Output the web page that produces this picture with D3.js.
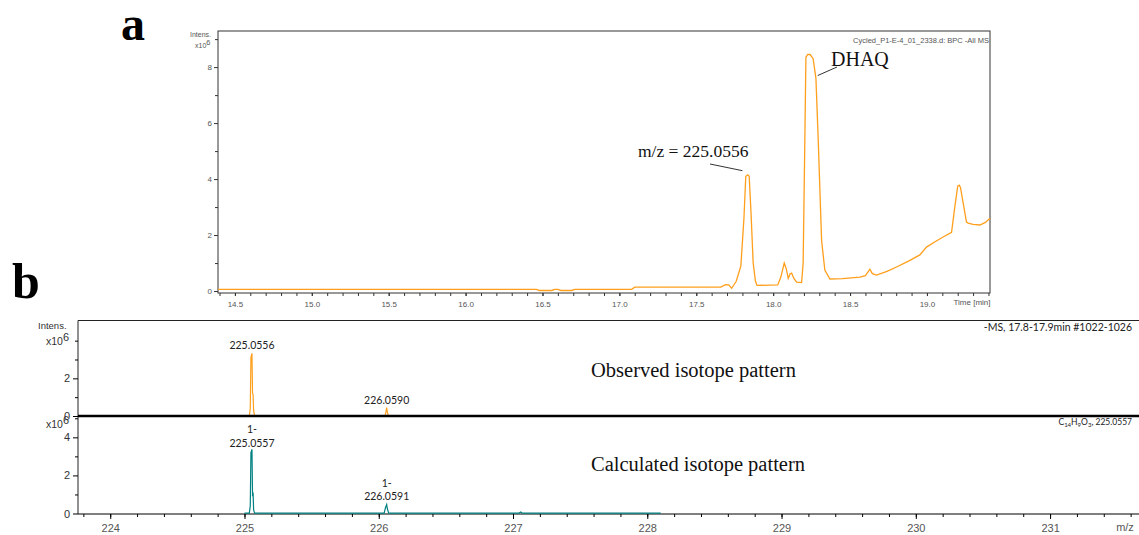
<!DOCTYPE html>
<html>
<head>
<meta charset="utf-8">
<script src="https://cdn.jsdelivr.net/npm/d3@7"></script>
<style>
  body { margin: 0; background: #fff; }
  svg { display: block; }
</style>
</head>
<body>
<div id="chart"></div>
<script>
const width = 1139, height = 535;

// panel a: base peak chromatogram (time in min, intensity x10^6)
const bpcTime = [14.39, 16.46, 16.48, 16.56, 16.58, 16.60, 16.62, 16.69, 16.71, 17.08, 17.10, 17.66, 17.69, 17.71, 17.73,
  17.76, 17.79, 17.81, 17.822, 17.835, 17.844, 17.856, 17.870, 17.885, 17.895, 18.03, 18.05, 18.072, 18.085, 18.098,
  18.110, 18.120, 18.135, 18.152, 18.185, 18.195, 18.205, 18.213, 18.225, 18.24, 18.26, 18.278, 18.293, 18.315, 18.336,
  18.369, 18.45, 18.564, 18.60, 18.629, 18.645, 18.672, 18.74, 18.802, 18.88, 18.954, 18.997, 19.05, 19.105, 19.160,
  19.181, 19.20, 19.21, 19.218, 19.257, 19.268, 19.30, 19.344, 19.38, 19.41];
const bpcInt = [0.06, 0.06, 0.02, 0.02, 0.06, 0.06, 0.02, 0.02, 0.06, 0.06, 0.14, 0.14, 0.23, 0.22, 0.10,
  0.35, 0.90, 2.6, 4.1, 4.15, 4.1, 2.8, 1.0, 0.35, 0.2, 0.22, 0.5, 1.0, 0.8, 0.45,
  0.62, 0.64, 0.45, 0.32, 0.3, 1.0, 5.0, 8.35, 8.45, 8.45, 8.3, 7.6, 5.4, 1.8, 0.75,
  0.43, 0.44, 0.50, 0.55, 0.78, 0.62, 0.57, 0.70, 0.86, 1.07, 1.29, 1.57, 1.75, 1.93, 2.1,
  3.0, 3.75, 3.78, 3.7, 2.46, 2.43, 2.38, 2.36, 2.45, 2.6];
const bpcXTicks = [14.5, 15.0, 15.5, 16.0, 16.5, 17.0, 17.5, 18.0, 18.5, 19.0];
const bpcYTicks = [0, 2, 4, 6, 8];

// panel b: observed spectrum (m/z, intensity x10^6), null = gap
const obsMz  = [225.036, 225.043, 225.048, 225.0556, 225.060, 225.064, 225.068, 225.075, null,
  226.045, 226.052, 226.0590, 226.064, 226.072];
const obsInt = [0, 0.4, 3.1, 3.33, 1.2, 1.15, 0.3, 0, null,
  0, 0.15, 0.45, 0.2, 0];
// calculated isotope pattern
const calcMz  = [225.00, 225.036, 225.043, 225.048, 225.0557, 225.060, 225.064, 225.068, 225.075,
  226.040, 226.050, 226.0591, 226.064, 226.074, 227.045, 227.058, 227.070, 228.10];
const calcInt = [0.02, 0.02, 0.4, 3.2, 3.37, 0.9, 1.1, 0.2, 0.02,
  0.02, 0.3, 0.47, 0.25, 0.02, 0.02, 0.08, 0.02, 0.02];
const mzTicks = [224, 225, 226, 227, 228, 229, 230, 231];
const obsYTicks = [0, 2];
const calcYTicks = [0, 2, 4];

const orange = "#ff9f1c", teal = "#008080", grey = "#555";

const svg = d3.select("#chart").append("svg")
  .attr("width", width)
  .attr("height", height);
svg.append("rect").attr("width", width).attr("height", height).attr("fill", "#fff");

function sup6(sel, x, y, size) {
  let t = sel.append("text").attr("x", x).attr("y", y)
    .attr("font-family", "Liberation Sans, Arial, sans-serif").attr("font-size", size).attr("fill", grey);
  t.append("tspan").text("x10");
  t.append("tspan").attr("dy", -size * 0.4).attr("font-size", size * 1.05).text("6");
  return t;
}

// ---------- panel a ----------
const ax = d3.scaleLinear().domain([14.39, 19.41]).range([218, 990]);
const ay = d3.scaleLinear().domain([-0.07, 9.29]).range([293, 31]);

const ga = svg.append("g");
ga.append("rect").attr("x", 218).attr("y", 31).attr("width", 772).attr("height", 262)
  .attr("fill", "none").attr("stroke", "#333").attr("stroke-width", 1);

let minorT = d3.range(144, 195).map(d => d / 10);
ga.append("g").attr("transform", "translate(0,293)")
  .call(d3.axisBottom(ax).tickValues(minorT).tickSize(3).tickFormat(""))
  .call(g => g.select(".domain").remove())
  .call(g => g.selectAll("line").attr("stroke", "#333"));
ga.append("g").attr("transform", "translate(0,293)")
  .call(d3.axisBottom(ax).tickValues(bpcXTicks).tickSize(3).tickPadding(5).tickFormat(d3.format(".1f")))
  .call(g => g.select(".domain").remove())
  .call(g => g.selectAll("line").attr("stroke", "#333"))
  .call(g => g.selectAll("text").attr("fill", grey).attr("font-size", 8)
    .attr("font-family", "Liberation Sans, Arial, sans-serif"));
ga.append("text").attr("x", 972).attr("y", 305).attr("text-anchor", "middle")
  .attr("font-family", "Liberation Sans, Arial, sans-serif").attr("font-size", 8).attr("fill", grey)
  .text("Time [min]");

ga.append("g").attr("transform", "translate(218,0)")
  .call(d3.axisLeft(ay).tickValues([1, 3, 5, 7, 9]).tickSize(3).tickFormat(""))
  .call(g => g.select(".domain").remove())
  .call(g => g.selectAll("line").attr("stroke", "#333"));
ga.append("g").attr("transform", "translate(218,0)")
  .call(d3.axisLeft(ay).tickValues(bpcYTicks).tickSize(4).tickPadding(2).tickFormat(d3.format("d")))
  .call(g => g.select(".domain").remove())
  .call(g => g.selectAll("line").attr("stroke", "#333"))
  .call(g => g.selectAll("text").attr("fill", grey).attr("font-size", 8)
    .attr("font-family", "Liberation Sans, Arial, sans-serif"));

ga.append("text").attr("x", 190).attr("y", 37)
  .attr("font-family", "Liberation Sans, Arial, sans-serif").attr("font-size", 7).attr("fill", grey)
  .text("Intens.");
sup6(ga, 195, 48, 7);
ga.append("text").attr("x", 989).attr("y", 43).attr("text-anchor", "end")
  .attr("font-family", "Liberation Sans, Arial, sans-serif").attr("font-size", 7.5).attr("fill", grey)
  .text("Cycled_P1-E-4_01_2338.d: BPC -All MS");

ga.append("path")
  .datum(d3.zip(bpcTime, bpcInt))
  .attr("fill", "none").attr("stroke", orange).attr("stroke-width", 1.3)
  .attr("d", d3.line().x(d => ax(d[0])).y(d => ay(d[1])));

// annotations
ga.append("text").attr("x", 638).attr("y", 157)
  .attr("font-family", "Liberation Serif, Times New Roman, serif").attr("font-size", 17.5).attr("fill", "#111")
  .text("m/z = 225.0556");
ga.append("line").attr("x1", 710).attr("y1", 164).attr("x2", ax(17.8)).attr("y2", ay(4.3))
  .attr("stroke", "#333").attr("stroke-width", 1);
ga.append("text").attr("x", 831).attr("y", 66)
  .attr("font-family", "Liberation Serif, Times New Roman, serif").attr("font-size", 20).attr("fill", "#111")
  .text("DHAQ");
ga.append("line").attr("x1", ax(18.29)).attr("y1", ay(7.7)).attr("x2", 837).attr("y2", 67)
  .attr("stroke", "#333").attr("stroke-width", 1);

svg.append("text").attr("x", 121).attr("y", 40)
  .attr("font-family", "Liberation Serif, Times New Roman, serif").attr("font-weight", "bold")
  .attr("font-size", 48).text("a");
svg.append("text").attr("x", 12).attr("y", 298)
  .attr("font-family", "Liberation Serif, Times New Roman, serif").attr("font-weight", "bold")
  .attr("font-size", 50).text("b");

// ---------- panel b ----------
const bx = d3.scaleLinear().domain([223.76, 231.64]).range([78, 1136]);
const by1 = d3.scaleLinear().domain([0, 5.06]).range([416, 320.7]);
const by2 = d3.scaleLinear().domain([0, 5.12]).range([513.5, 416]);

const gb = svg.append("g");
gb.append("line").attr("x1", 78).attr("x2", 1139).attr("y1", 320.5).attr("y2", 320.5)
  .attr("stroke", "#222").attr("stroke-width", 1);
gb.append("line").attr("x1", 78).attr("x2", 78).attr("y1", 320.5).attr("y2", 514)
  .attr("stroke", "#222").attr("stroke-width", 1);

const fontB = "Liberation Sans, Arial, sans-serif";
[[by1, [1, 3, 4], obsYTicks], [by2, [1, 3, 5], calcYTicks]].forEach(([y, minor, major]) => {
  gb.append("g").attr("transform", "translate(78,0)")
    .call(d3.axisLeft(y).tickValues(minor).tickSize(3).tickFormat(""))
    .call(g => g.select(".domain").remove());
  gb.append("g").attr("transform", "translate(78,0)")
    .call(d3.axisLeft(y).tickValues(major).tickSize(5).tickPadding(3).tickFormat(d3.format("d")))
    .call(g => g.select(".domain").remove())
    .call(g => g.selectAll("text").attr("fill", "#333").attr("font-size", 11).attr("font-family", fontB));
});

let minorMz = d3.range(2238, 2317, 2).map(d => d / 10);
gb.append("g").attr("transform", "translate(0,514)")
  .call(d3.axisBottom(bx).tickValues(minorMz).tickSize(3).tickFormat(""))
  .call(g => g.select(".domain").attr("d", "M78,0H1139"));
gb.append("g").attr("transform", "translate(0,514)")
  .call(d3.axisBottom(bx).tickValues(mzTicks).tickSize(5).tickPadding(5).tickFormat(d3.format("d")))
  .call(g => g.select(".domain").remove())
  .call(g => g.selectAll("text").attr("fill", grey).attr("font-size", 11).attr("font-family", fontB));
gb.append("text").attr("x", 1125).attr("y", 531).attr("text-anchor", "middle")
  .attr("font-family", fontB).attr("font-size", 11).attr("fill", grey).text("m/z");

gb.append("text").attr("x", 38).attr("y", 329)
  .attr("font-family", fontB).attr("font-size", 9.5).attr("fill", "#333").text("Intens.");
sup6(gb, 46, 345, 10.5).attr("fill", "#333");
sup6(gb, 46, 428, 10.5).attr("fill", "#333");

const lineB = (y) => d3.line().defined(d => d[0] != null).x(d => bx(d[0])).y(d => y(d[1]));
gb.append("path").datum(d3.zip(obsMz, obsInt))
  .attr("fill", "none").attr("stroke", orange).attr("stroke-width", 1.2).attr("d", lineB(by1));
gb.append("path").datum(d3.zip(calcMz, calcInt))
  .attr("fill", "none").attr("stroke", teal).attr("stroke-width", 1.2).attr("d", lineB(by2));

gb.append("line").attr("x1", 78).attr("x2", 1139).attr("y1", 416).attr("y2", 416)
  .attr("stroke", "#000").attr("stroke-width", 2.5);

const fontC = "Lato, Open Sans, sans-serif";
function peakLabel(mz, y, lines) {
  lines.forEach((s, i) => {
    gb.append("text").attr("x", bx(mz)).attr("y", y + i * 13.5).attr("text-anchor", "middle")
      .attr("font-family", fontC).attr("font-size", 10.5).attr("fill", "#222").text(s);
  });
}
peakLabel(225.0556, 349, ["225.0556"]);
peakLabel(226.0590, 404, ["226.0590"]);
peakLabel(225.0557, 433, ["1-", "225.0557"]);
peakLabel(226.0591, 486.5, ["1-", "226.0591"]);

gb.append("text").attr("x", 1132).attr("y", 331).attr("text-anchor", "end")
  .attr("font-family", fontC).attr("font-size", 10.5).attr("fill", "#222").text("-MS, 17.8-17.9min #1022-1026");
let f = gb.append("text").attr("x", 1132).attr("y", 425).attr("text-anchor", "end")
  .attr("font-family", fontC).attr("font-size", 8.5).attr("fill", "#222");
f.append("tspan").text("C");
f.append("tspan").attr("font-size", 6).attr("dy", 1.5).text("14");
f.append("tspan").attr("dy", -1.5).text("H");
f.append("tspan").attr("font-size", 6).attr("dy", 1.5).text("9");
f.append("tspan").attr("dy", -1.5).text("O");
f.append("tspan").attr("font-size", 6).attr("dy", 1.5).text("3");
f.append("tspan").attr("dy", -1.5).text(", 225.0557");

gb.append("text").attr("x", 591).attr("y", 377)
  .attr("font-family", "Liberation Serif, Times New Roman, serif").attr("font-size", 20.5).attr("fill", "#111")
  .text("Observed isotope pattern");
gb.append("text").attr("x", 591).attr("y", 471)
  .attr("font-family", "Liberation Serif, Times New Roman, serif").attr("font-size", 20.5).attr("fill", "#111")
  .text("Calculated isotope pattern");
</script>
</body>
</html>
